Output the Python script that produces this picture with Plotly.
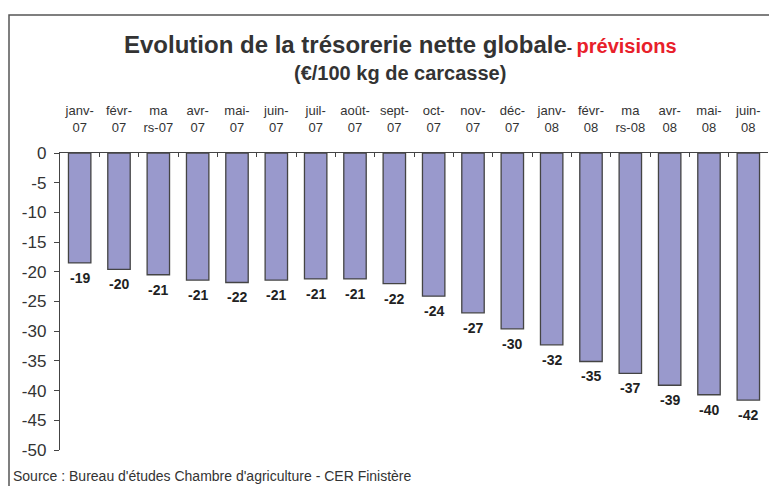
import plotly.graph_objects as go

categories = ["janv-<br>07", "févr-<br>07", "ma<br>rs-07", "avr-<br>07", "mai-<br>07", "juin-<br>07",
              "juil-<br>07", "août-<br>07", "sept-<br>07", "oct-<br>07", "nov-<br>07", "déc-<br>07",
              "janv-<br>08", "févr-<br>08", "ma<br>rs-08", "avr-<br>08", "mai-<br>08", "juin-<br>08"]
values = [-18.5, -19.6, -20.5, -21.4, -21.8, -21.4, -21.2, -21.2, -22.0,
          -24.1, -26.9, -29.6, -32.3, -35.1, -37.1, -39.1, -40.7, -41.6]
labels = ["-19", "-20", "-21", "-21", "-22", "-21", "-21", "-21", "-22",
          "-24", "-27", "-30", "-32", "-35", "-37", "-39", "-40", "-42"]
yticks = [0, -5, -10, -15, -20, -25, -30, -35, -40, -45, -50]
yticktext = ["0", "-5", "-10", "-15", "-20", "-25", "-30", "-35", "-40", "-45", "-50"]

NARROW = "Liberation Sans Narrow, Arial Narrow, Liberation Sans, Arial"
BOLD = "Liberation Sans, Arial"

# page has an 8px body margin: work in page pixels and convert
OFF = 8
W, H = 777 - OFF, 486 - OFF
L, R, T, B = 60 - OFF, 9, 153 - OFF, 36
pw, ph = W - L - R, H - T - B

def px(x):
    return (x - OFF - L) / pw

def py(y):
    return 1 - (y - OFF - T) / ph

fig = go.Figure(go.Bar(
    x=categories, y=values,
    marker=dict(color="#9999CC", line=dict(color="#444444", width=1.3)),
    width=0.57,
))

annotations = [
    dict(x=c, y=v, xref="x", yref="y", text=f"<b>{t}</b>", showarrow=False,
         yanchor="middle", xanchor="center", yshift=-15,
         font=dict(family=NARROW, size=14, color="#222222"))
    for c, v, t in zip(categories, values, labels)
]

annotations += [
    dict(xref="paper", yref="paper", x=px(400), y=py(45), xanchor="center", yanchor="middle",
         showarrow=False,
         text="<b>Evolution de la trésorerie nette globale</b><span style='font-size:16px'><b>- </b></span>"
              "<span style='font-size:20px;color:#E8202A'><b>prévisions</b></span>",
         font=dict(family=BOLD, size=24, color="#333333")),
    dict(xref="paper", yref="paper", x=px(400), y=py(73), xanchor="center", yanchor="middle",
         showarrow=False, text="<b>(€/100 kg de carcasse)</b>",
         font=dict(family=BOLD, size=20, color="#333333")),
    dict(xref="paper", yref="paper", x=px(11), y=py(476), xanchor="left", yanchor="middle",
         showarrow=False, text="Source : Bureau d'études Chambre d'agriculture - CER Finistère",
         font=dict(family=NARROW, size=14, color="#333333")),
]

fig.update_layout(
    width=W, height=H, margin=dict(l=L, r=R, t=T, b=B),
    paper_bgcolor="white", plot_bgcolor="white", showlegend=False,
    xaxis=dict(side="top", type="category", tickson="boundaries", ticks="inside", ticklen=4,
               tickcolor="#444444", tickwidth=1.3, showline=True, linecolor="#444444", linewidth=1.3,
               tickfont=dict(family=NARROW, size=13, color="#333333"),
               ticklabelstandoff=15, showgrid=False),
    yaxis=dict(range=[-50, 0], tickvals=yticks, ticktext=yticktext, ticks="outside", ticklen=5,
               tickcolor="#444444", tickwidth=1.3,
               showline=True, linecolor="#444444", linewidth=1.3, showgrid=False, zeroline=False,
               tickfont=dict(family=NARROW, size=17, color="#333333"), ticklabelstandoff=4),
    shapes=[dict(type="rect", xref="paper", yref="paper",
                 x0=px(OFF + 1), x1=px(800), y0=py(500), y1=py(15),
                 line=dict(color="#555555", width=1.5), fillcolor="rgba(0,0,0,0)", layer="below")],
    annotations=annotations,
)

fig.write_html("out.html")
